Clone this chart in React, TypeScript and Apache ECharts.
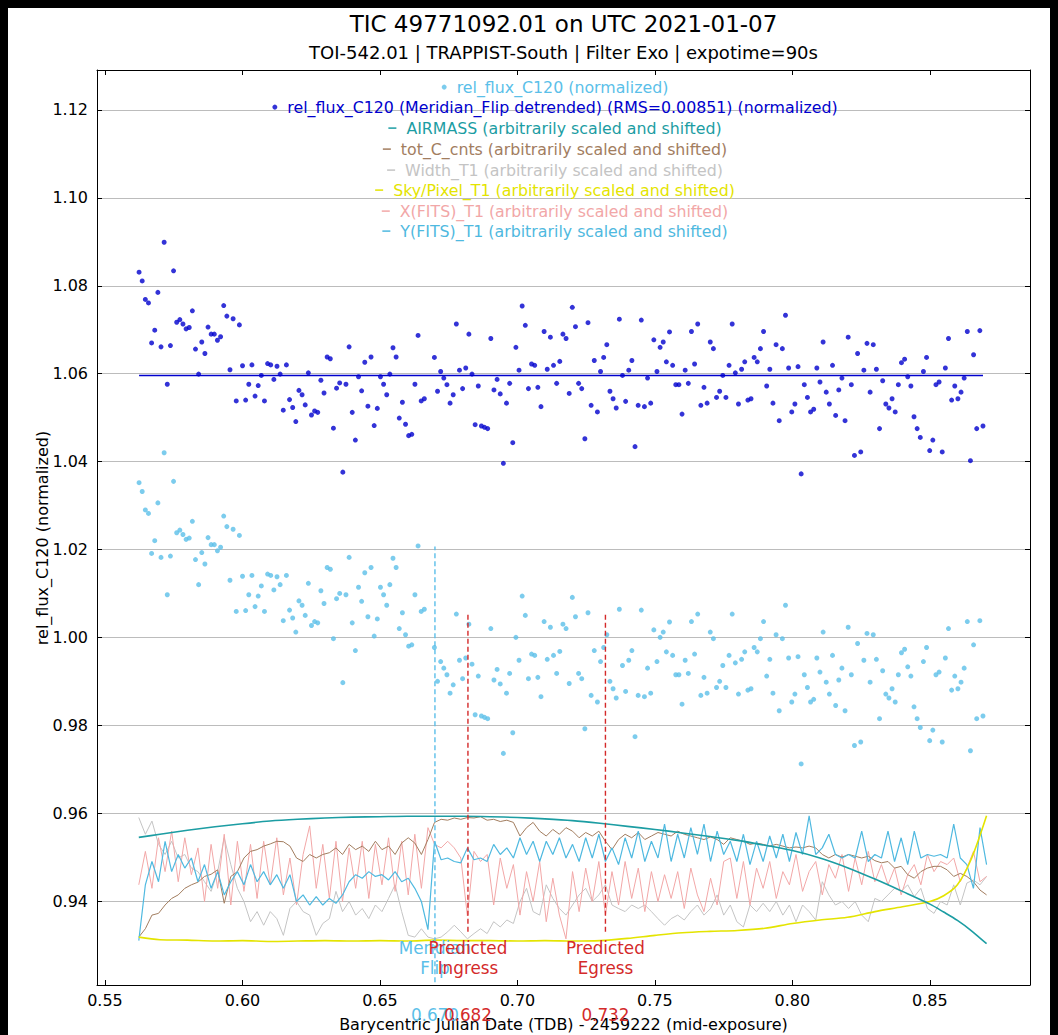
import React, { useEffect, useRef } from "react";
import * as echarts from "echarts";

const FONT = '"DejaVu Sans", "Liberation Sans", sans-serif';

const titleText = "TIC 49771092.01 on UTC 2021-01-07";
const subtitleText = "TOI-542.01 | TRAPPIST-South | Filter Exo | expotime=90s";
const xAxisTitle = "Barycentric Julian Date (TDB) - 2459222 (mid-exposure)";
const yAxisTitle = "rel_flux_C120 (normalized)";

const rawName = "rel_flux_C120 (normalized)";
const detrendedName = "rel_flux_C120 (Meridian_Flip detrended) (RMS=0.00851) (normalized)";
const airmassName = "AIRMASS (arbitrarily scaled and shifted)";
const countsName = "tot_C_cnts (arbitrarily scaled and shifted)";
const widthName = "Width_T1 (arbitrarily scaled and shifted)";
const skyName = "Sky/Pixel_T1 (arbitrarily scaled and shifted)";
const xFitsName = "X(FITS)_T1 (arbitrarily scaled and shifted)";
const yFitsName = "Y(FITS)_T1 (arbitrarily scaled and shifted)";

// Axis extents (BJD_TDB - 2459222, normalized flux)
const xMin = 0.5471;
const xMax = 0.8864;
const yMin = 0.9209;
const yMax = 1.1291;

// Exposure cadence: the meridian flip splits the run into two blocks
const cadence = 0.00114;
const preFlipStart = 0.5624;
const postFlipStart = 0.6698;

const preFlipRaw = [
  1.0352, 1.0332, 1.0290, 1.0282, 1.0191, 1.0220, 1.0306, 1.0182, 1.0420, 1.0097,
  1.0185, 1.0355, 1.0238, 1.0244, 1.0234, 1.0223, 1.0226, 1.0264, 1.0177, 1.0120,
  1.0193, 1.0167, 1.0227, 1.0211, 1.0211, 1.0197, 1.0205, 1.0276, 1.0252, 1.0130,
  1.0246, 1.0059, 1.0232, 1.0139, 1.0061, 1.0097, 1.0141, 1.0070, 1.0094, 1.0117,
  1.0059, 1.0144, 1.0141, 1.0108, 1.0138, 1.0120, 1.0038, 1.0141, 1.0062, 1.0044,
  1.0012, 1.0083, 1.0073, 1.0050, 1.0123, 1.0027, 1.0036, 1.0033, 1.0106, 1.0077,
  1.0159, 1.0155, 0.9997, 1.0088, 1.0100, 0.9897, 1.0097, 1.0182, 1.0033, 0.9970,
  1.0114, 1.0082, 1.0147, 1.0047, 1.0159, 1.0003, 1.0042, 1.0114, 1.0097, 1.0073,
  1.0120, 1.0180, 1.0159, 1.0020, 1.0056, 1.0006, 0.9980, 0.9983, 1.0097, 1.0208,
  1.0059, 1.0064,
];

const postFlipRaw = [
  0.9977, 0.9900, 0.9945, 0.9930, 0.9915, 0.9873, 0.9892, 1.0053, 0.9948, 0.9906,
  0.9953, 1.0030, 0.9939, 0.9824, 0.9912, 0.9821, 0.9818, 0.9815, 1.0020, 0.9903,
  0.9927, 0.9894, 0.9736, 0.9873, 0.9918, 0.9783, 1.0000, 0.9948, 1.0094, 1.0050,
  0.9906, 0.9962, 0.9959, 0.9909, 0.9865, 1.0036, 0.9950, 1.0023, 0.9959, 0.9918,
  0.9968, 1.0030, 1.0020, 0.9895, 1.0091, 1.0047, 0.9918, 0.9906, 0.9792, 1.0056,
  0.9868, 0.9970, 0.9853, 0.9945, 0.9977, 1.0006, 0.9900, 0.9883, 0.9862, 1.0064,
  0.9936, 0.9877, 0.9948, 0.9970, 0.9774, 0.9868, 1.0062, 0.9865, 0.9930, 0.9873,
  1.0017, 0.9945, 1.0000, 1.0012, 0.9967, 1.0035, 0.9959, 0.9915, 0.9915, 0.9848,
  0.9948, 0.9918, 1.0036, 0.9962, 1.0053, 0.9868, 0.9909, 0.9873, 1.0012, 0.9997,
  0.9886, 0.9900, 0.9936, 0.9886, 0.9959, 1.0053, 0.9942, 0.9871, 0.9950, 0.9967,
  0.9880, 0.9883, 0.9977, 0.9967, 0.9997, 1.0036, 0.9912, 0.9950, 0.9873, 1.0006,
  0.9833, 0.9997, 1.0073, 0.9953, 0.9853, 0.9871, 0.9956, 0.9712, 0.9915, 0.9886,
  0.9853, 0.9859, 0.9953, 0.9921, 1.0012, 0.9898, 0.9871, 0.9959, 0.9845, 0.9903,
  0.9930, 0.9833, 1.0023, 0.9915, 0.9754, 0.9986, 0.9762, 0.9948, 1.0009, 0.9898,
  1.0006, 0.9950, 0.9815, 0.9924, 0.9871, 0.9862, 0.9883, 0.9853, 0.9915, 0.9965,
  0.9973, 0.9933, 0.9912, 0.9842, 0.9815, 0.9795, 0.9945, 0.9977, 0.9765, 0.9789,
  0.9915, 0.9921, 0.9762, 0.9953, 1.0020, 0.9880, 0.9912, 0.9883, 0.9898, 0.9930,
  1.0036, 0.9742, 0.9983, 0.9815, 1.0038, 0.9821,
];

const preFlipDetrended = [
  1.0831, 1.0811, 1.0769, 1.0761, 1.0670, 1.0699, 1.0785, 1.0661, 1.0899, 1.0576,
  1.0664, 1.0834, 1.0717, 1.0723, 1.0713, 1.0702, 1.0705, 1.0743, 1.0656, 1.0599,
  1.0672, 1.0646, 1.0706, 1.0690, 1.0690, 1.0676, 1.0684, 1.0755, 1.0731, 1.0609,
  1.0725, 1.0538, 1.0711, 1.0618, 1.0540, 1.0576, 1.0620, 1.0549, 1.0573, 1.0596,
  1.0538, 1.0623, 1.0620, 1.0587, 1.0617, 1.0599, 1.0517, 1.0620, 1.0541, 1.0523,
  1.0491, 1.0562, 1.0552, 1.0529, 1.0602, 1.0506, 1.0515, 1.0512, 1.0585, 1.0556,
  1.0638, 1.0634, 1.0476, 1.0567, 1.0579, 1.0376, 1.0576, 1.0661, 1.0512, 1.0449,
  1.0593, 1.0561, 1.0626, 1.0526, 1.0638, 1.0482, 1.0521, 1.0593, 1.0576, 1.0552,
  1.0599, 1.0659, 1.0638, 1.0499, 1.0535, 1.0485, 1.0459, 1.0462, 1.0576, 1.0687,
  1.0538, 1.0543,
];

const postFlipDetrended = [
  1.0637, 1.0560, 1.0605, 1.0590, 1.0575, 1.0533, 1.0552, 1.0713, 1.0608, 1.0566,
  1.0613, 1.0690, 1.0599, 1.0484, 1.0572, 1.0481, 1.0478, 1.0475, 1.0680, 1.0563,
  1.0587, 1.0554, 1.0396, 1.0533, 1.0578, 1.0443, 1.0660, 1.0608, 1.0754, 1.0710,
  1.0566, 1.0622, 1.0619, 1.0569, 1.0525, 1.0696, 1.0610, 1.0683, 1.0619, 1.0578,
  1.0628, 1.0690, 1.0680, 1.0555, 1.0751, 1.0707, 1.0578, 1.0566, 1.0452, 1.0716,
  1.0528, 1.0630, 1.0513, 1.0605, 1.0637, 1.0666, 1.0560, 1.0543, 1.0522, 1.0724,
  1.0596, 1.0537, 1.0608, 1.0630, 1.0434, 1.0528, 1.0722, 1.0525, 1.0590, 1.0533,
  1.0677, 1.0605, 1.0660, 1.0672, 1.0627, 1.0695, 1.0619, 1.0575, 1.0575, 1.0508,
  1.0608, 1.0578, 1.0696, 1.0622, 1.0713, 1.0528, 1.0569, 1.0533, 1.0672, 1.0657,
  1.0546, 1.0560, 1.0596, 1.0546, 1.0619, 1.0713, 1.0602, 1.0531, 1.0610, 1.0627,
  1.0540, 1.0543, 1.0637, 1.0627, 1.0657, 1.0696, 1.0572, 1.0610, 1.0533, 1.0666,
  1.0493, 1.0657, 1.0733, 1.0613, 1.0513, 1.0531, 1.0616, 1.0372, 1.0575, 1.0546,
  1.0513, 1.0519, 1.0613, 1.0581, 1.0672, 1.0558, 1.0531, 1.0619, 1.0505, 1.0563,
  1.0590, 1.0493, 1.0683, 1.0575, 1.0414, 1.0646, 1.0422, 1.0608, 1.0669, 1.0558,
  1.0666, 1.0610, 1.0475, 1.0584, 1.0531, 1.0522, 1.0543, 1.0513, 1.0575, 1.0625,
  1.0633, 1.0593, 1.0572, 1.0502, 1.0475, 1.0455, 1.0605, 1.0637, 1.0425, 1.0449,
  1.0575, 1.0581, 1.0422, 1.0613, 1.0680, 1.0540, 1.0572, 1.0543, 1.0558, 1.0590,
  1.0696, 1.0402, 1.0643, 1.0475, 1.0698, 1.0481,
];

const detrendedMean = 1.0596;

// Ancillary per-frame quantities, sampled on a common time grid
const auxStart = 0.5623;
const auxStep = 0.00239;

const totCounts = [
  0.9318, 0.9337, 0.9368, 0.9372, 0.9391, 0.9406, 0.9414, 0.9429, 0.9437, 0.9443,
  0.9456, 0.9461, 0.9471, 0.9395, 0.9456, 0.9467, 0.9498, 0.9513, 0.9517, 0.9525,
  0.9530, 0.9536, 0.9535, 0.9525, 0.9498, 0.9490, 0.9506, 0.9498, 0.9506, 0.9510,
  0.9521, 0.9506, 0.9529, 0.9517, 0.9525, 0.9513, 0.9536, 0.9517, 0.9525, 0.9506,
  0.9532, 0.9544, 0.9532, 0.9506, 0.9540, 0.9579, 0.9586, 0.9584, 0.9589, 0.9586,
  0.9590, 0.9589, 0.9592, 0.9584, 0.9586, 0.9581, 0.9584, 0.9579, 0.9548, 0.9567,
  0.9579, 0.9559, 0.9548, 0.9563, 0.9552, 0.9567, 0.9559, 0.9544, 0.9556, 0.9548,
  0.9559, 0.9536, 0.9517, 0.9540, 0.9552, 0.9544, 0.9556, 0.9540, 0.9548, 0.9556,
  0.9552, 0.9548, 0.9559, 0.9552, 0.9548, 0.9544, 0.9540, 0.9546, 0.9540, 0.9529,
  0.9544, 0.9540, 0.9536, 0.9529, 0.9532, 0.9529, 0.9525, 0.9529, 0.9525, 0.9521,
  0.9523, 0.9521, 0.9525, 0.9521, 0.9506, 0.9498, 0.9506, 0.9500, 0.9506, 0.9502,
  0.9498, 0.9502, 0.9492, 0.9487, 0.9490, 0.9475, 0.9479, 0.9460, 0.9452, 0.9467,
  0.9475, 0.9479, 0.9479, 0.9471, 0.9456, 0.9463, 0.9456, 0.9444, 0.9425, 0.9414,
];

const widthT1 = [
  0.9590, 0.9552, 0.9582, 0.9529, 0.9506, 0.9536, 0.9498, 0.9506, 0.9475, 0.9467,
  0.9444, 0.9422, 0.9467, 0.9544, 0.9483, 0.9429, 0.9399, 0.9353, 0.9376, 0.9345,
  0.9376, 0.9360, 0.9322, 0.9383, 0.9399, 0.9376, 0.9368, 0.9322, 0.9349, 0.9360,
  0.9422, 0.9376, 0.9399, 0.9368, 0.9383, 0.9360, 0.9391, 0.9376, 0.9406, 0.9437,
  0.9376, 0.9322, 0.9318, 0.9337, 0.9318, 0.9314, 0.9318, 0.9330, 0.9345, 0.9330,
  0.9314, 0.9326, 0.9337, 0.9326, 0.9353, 0.9341, 0.9357, 0.9349, 0.9399, 0.9429,
  0.9376, 0.9368, 0.9437, 0.9406, 0.9383, 0.9368, 0.9391, 0.9414, 0.9429, 0.9399,
  0.9414, 0.9437, 0.9391, 0.9383, 0.9376, 0.9391, 0.9383, 0.9391, 0.9376, 0.9360,
  0.9345, 0.9360, 0.9368, 0.9357, 0.9376, 0.9391, 0.9368, 0.9383, 0.9414, 0.9368,
  0.9391, 0.9353, 0.9341, 0.9391, 0.9376, 0.9395, 0.9376, 0.9399, 0.9368, 0.9391,
  0.9353, 0.9391, 0.9376, 0.9357, 0.9444, 0.9414, 0.9391, 0.9399, 0.9383, 0.9399,
  0.9368, 0.9353, 0.9406, 0.9399, 0.9414, 0.9429, 0.9422, 0.9437, 0.9410, 0.9429,
  0.9383, 0.9372, 0.9399, 0.9391, 0.9437, 0.9391, 0.9441, 0.9448, 0.9437, 0.9456,
];

const xFits = [
  0.9437, 0.9513, 0.9429, 0.9544, 0.9467, 0.9559, 0.9444, 0.9544, 0.9460, 0.9521,
  0.9399, 0.9529, 0.9429, 0.9552, 0.9391, 0.9536, 0.9422, 0.9529, 0.9406, 0.9536,
  0.9437, 0.9544, 0.9414, 0.9498, 0.9391, 0.9506, 0.9571, 0.9429, 0.9529, 0.9406,
  0.9536, 0.9399, 0.9521, 0.9429, 0.9536, 0.9406, 0.9529, 0.9437, 0.9544, 0.9422,
  0.9536, 0.9414, 0.9552, 0.9429, 0.9567, 0.9529, 0.9521, 0.9536, 0.9521, 0.9498,
  0.9366, 0.9513, 0.9490, 0.9506, 0.9391, 0.9498, 0.9429, 0.9483, 0.9368, 0.9467,
  0.9399, 0.9490, 0.9353, 0.9452, 0.9368, 0.9314, 0.9467, 0.9376, 0.9475, 0.9399,
  0.9490, 0.9368, 0.9467, 0.9391, 0.9490, 0.9406, 0.9475, 0.9376, 0.9467, 0.9399,
  0.9460, 0.9406, 0.9467, 0.9383, 0.9475, 0.9414, 0.9376, 0.9452, 0.9391, 0.9490,
  0.9498, 0.9406, 0.9490, 0.9391, 0.9475, 0.9429, 0.9490, 0.9406, 0.9467, 0.9437,
  0.9506, 0.9422, 0.9467, 0.9490, 0.9414, 0.9483, 0.9452, 0.9506, 0.9422, 0.9498,
  0.9437, 0.9513, 0.9444, 0.9483, 0.9437, 0.9475, 0.9414, 0.9460, 0.9483, 0.9437,
  0.9506, 0.9467, 0.9490, 0.9483, 0.9498, 0.9444, 0.9475, 0.9513, 0.9444, 0.9456,
];

const yFits = [
  0.9310, 0.9437, 0.9490, 0.9444, 0.9536, 0.9467, 0.9506, 0.9475, 0.9498, 0.9444,
  0.9483, 0.9429, 0.9467, 0.9414, 0.9444, 0.9467, 0.9437, 0.9483, 0.9444, 0.9467,
  0.9437, 0.9460, 0.9429, 0.9460, 0.9399, 0.9414, 0.9391, 0.9410, 0.9391, 0.9406,
  0.9395, 0.9414, 0.9444, 0.9460, 0.9452, 0.9467, 0.9456, 0.9460, 0.9448, 0.9467,
  0.9444, 0.9452, 0.9429, 0.9399, 0.9335, 0.9536, 0.9494, 0.9498, 0.9490, 0.9487,
  0.9521, 0.9494, 0.9498, 0.9490, 0.9529, 0.9506, 0.9521, 0.9498, 0.9544, 0.9506,
  0.9536, 0.9490, 0.9536, 0.9506, 0.9544, 0.9498, 0.9529, 0.9490, 0.9544, 0.9498,
  0.9552, 0.9490, 0.9521, 0.9483, 0.9544, 0.9498, 0.9559, 0.9490, 0.9536, 0.9498,
  0.9575, 0.9490, 0.9552, 0.9498, 0.9567, 0.9506, 0.9575, 0.9490, 0.9559, 0.9506,
  0.9536, 0.9490, 0.9552, 0.9483, 0.9536, 0.9490, 0.9548, 0.9498, 0.9552, 0.9490,
  0.9556, 0.9506, 0.9594, 0.9506, 0.9521, 0.9552, 0.9506, 0.9498, 0.9506, 0.9498,
  0.9559, 0.9490, 0.9506, 0.9498, 0.9559, 0.9490, 0.9544, 0.9483, 0.9559, 0.9498,
  0.9506, 0.9502, 0.9506, 0.9498, 0.9575, 0.9498, 0.9483, 0.9429, 0.9567, 0.9483,
];

// Slowly varying quantities on a coarser grid
const smoothTimes = [
  0.5623, 0.57, 0.58, 0.59, 0.60, 0.61, 0.62, 0.63, 0.64, 0.65, 0.66, 0.67,
  0.68, 0.69, 0.70, 0.71, 0.72, 0.73, 0.74, 0.75, 0.76, 0.77, 0.78, 0.79,
  0.80, 0.81, 0.82, 0.83, 0.84, 0.85, 0.855, 0.86, 0.865, 0.8706,
];
const airmass = [
  0.9545, 0.9552, 0.9561, 0.9569, 0.9576, 0.9582, 0.9586, 0.9589, 0.9591, 0.9592, 0.9593, 0.9593,
  0.9593, 0.9592, 0.9590, 0.9587, 0.9583, 0.9577, 0.9570, 0.9563, 0.9555, 0.9547, 0.9538, 0.9527,
  0.9515, 0.9498, 0.9476, 0.9450, 0.9422, 0.9393, 0.9375, 0.9356, 0.9333, 0.9303,
];
const skyPerPixel = [
  0.9318, 0.9312, 0.9311, 0.9309, 0.9310, 0.9308, 0.9309, 0.9310, 0.9309, 0.9310, 0.9309, 0.9311,
  0.9310, 0.9310, 0.9309, 0.9310, 0.9309, 0.9310, 0.9315, 0.9322, 0.9328, 0.9331, 0.9333, 0.9338,
  0.9349, 0.9357, 0.9363, 0.9376, 0.9387, 0.9399, 0.9412, 0.9437, 0.9495, 0.9594,
];

// Event markers
const flipTime = 0.670;
const ingressTime = 0.682;
const egressTime = 0.732;
const flipSpan = [0.9215, 1.0207];
const transitSpan = [0.9330, 1.0052];

const rawColor = "#5bbfe9";
const detrendedColor = "#0000cd";
const airmassColor = "#1c9da3";
const countsColor = "#a27d5f";
const widthColor = "#c4c4c4";
const skyColor = "#e4e400";
const xFitsColor = "#f2a7a7";
const yFitsColor = "#4fb9e0";
const flipColor = "#5bbfe9";
const transitColor = "#d42a2a";

const gridLeft = 89;
const gridTop = 62;
const gridWidth = 933;
const gridHeight = 915;

const onGrid = (start: number, step: number, values: number[]) =>
  values.map((v, i) => [start + i * step, v]);
const paired = (times: number[], values: number[]) => times.map((t, i) => [t, values[i]]);

const isMultiple = (v: number, step: number) => Math.abs(v / step - Math.round(v / step)) < 1e-6;

export default function App() {
  const ref = useRef<HTMLDivElement>(null);

  useEffect(() => {
    document.documentElement.style.background = "#000";
    document.body.style.background = "#000";
    document.body.style.overflow = "hidden";
    const el = ref.current;
    if (!el) return;
    const chart = echarts.init(el, null, { renderer: "svg" });

    const lastPostTime = postFlipStart + (postFlipRaw.length - 1) * cadence;
    const rawData = [...onGrid(preFlipStart, cadence, preFlipRaw), ...onGrid(postFlipStart, cadence, postFlipRaw)];
    const detData = [
      ...onGrid(preFlipStart, cadence, preFlipDetrended),
      ...onGrid(postFlipStart, cadence, postFlipDetrended),
    ];

    const legendSize = 15.8;
    const ctx = document.createElement("canvas").getContext("2d")!;
    ctx.font = `${legendSize}px ${FONT}`;
    const legendCenter = 547;
    const legendRows = [
      { name: rawName, color: rawColor, icon: "circle", w: 5, h: 5 },
      { name: detrendedName, color: detrendedColor, icon: "circle", w: 5, h: 5 },
      { name: airmassName, color: airmassColor, icon: "rect", w: 8, h: 1.5 },
      { name: countsName, color: countsColor, icon: "rect", w: 8, h: 1.5 },
      { name: widthName, color: widthColor, icon: "rect", w: 8, h: 1.5 },
      { name: skyName, color: skyColor, icon: "rect", w: 8, h: 1.5 },
      { name: xFitsName, color: xFitsColor, icon: "rect", w: 8, h: 1.5 },
      { name: yFitsName, color: yFitsColor, icon: "rect", w: 8, h: 1.5 },
    ];
    const legendCenters = [79, 99, 120, 141, 162, 182, 203, 223];
    const legends = legendRows.map((r, k) => {
      const total = r.w + 10 + ctx.measureText(r.name).width;
      return {
        show: true,
        selectedMode: false,
        orient: "horizontal",
        padding: 0,
        left: legendCenter - total / 2,
        top: legendCenters[k] - legendSize / 2,
        itemWidth: r.w,
        itemHeight: r.h,
        textStyle: { fontSize: legendSize, fontFamily: FONT, color: r.color, padding: [0, 0, 0, 5] },
        data: [{ name: r.name, icon: r.icon, itemStyle: { color: r.color }, textStyle: { color: r.color } }],
      };
    });

    const axisLine = { show: true, onZero: false, lineStyle: { color: "#000", width: 1 } };
    const axisTick = { show: true, inside: true, length: 5, lineStyle: { color: "#000", width: 1 } };
    const labelStyle = { color: "#000", fontSize: 16, fontFamily: FONT };

    const line = (name: string, data: number[][], color: string, width: number, smooth: number | boolean = false) => ({
      type: "line",
      name,
      data,
      smooth,
      symbol: "none",
      showSymbol: false,
      silent: true,
      itemStyle: { color },
      lineStyle: { color, width },
    });

    const marker = (name: string, time: number, span: number[], color: string) => ({
      type: "line",
      name,
      data: [
        [time, span[0]],
        [time, span[1]],
      ],
      symbol: "none",
      showSymbol: false,
      silent: true,
      z: 5,
      itemStyle: { color },
      lineStyle: { color, width: 1.4, type: [5, 3] },
    });

    const option: any = {
      animation: false,
      backgroundColor: "#fff",
      legend: legends,
      grid: {
        left: gridLeft,
        top: gridTop,
        width: gridWidth,
        height: gridHeight,
        containLabel: false,
        outerBoundsMode: "none",
      },
      xAxis: [
        {
          type: "value",
          position: "bottom",
          min: xMin,
          max: xMax,
          minInterval: 0.05,
          maxInterval: 0.05,
          axisLine,
          axisTick,
          axisLabel: {
            ...labelStyle,
            margin: 7,
            formatter: (v: number) => (isMultiple(v, 0.05) ? v.toFixed(2) : ""),
          },
          splitLine: { show: false },
          name: xAxisTitle,
          nameLocation: "middle",
          nameGap: 31,
          nameTextStyle: { color: "#000", fontSize: 16, fontFamily: FONT },
        },
        {
          type: "value",
          position: "top",
          min: xMin,
          max: xMax,
          minInterval: 0.05,
          maxInterval: 0.05,
          axisLine,
          axisTick,
          axisLabel: { show: false },
          splitLine: { show: false },
        },
      ],
      yAxis: [
        {
          type: "value",
          position: "left",
          min: yMin,
          max: yMax,
          minInterval: 0.02,
          maxInterval: 0.02,
          axisLine,
          axisTick,
          axisLabel: {
            ...labelStyle,
            margin: 9,
            formatter: (v: number) => (isMultiple(v, 0.02) ? v.toFixed(2) : ""),
          },
          splitLine: {
            show: true,
            showMinLine: false,
            showMaxLine: false,
            lineStyle: { color: "#bcbcbc", width: 1 },
          },
        },
        {
          type: "value",
          position: "right",
          min: yMin,
          max: yMax,
          minInterval: 0.02,
          maxInterval: 0.02,
          axisLine,
          axisTick,
          axisLabel: { show: false },
          splitLine: { show: false },
        },
      ],
      series: [
        line(widthName, onGrid(auxStart, auxStep, widthT1), widthColor, 1),
        line(xFitsName, onGrid(auxStart, auxStep, xFits), xFitsColor, 1),
        line(countsName, onGrid(auxStart, auxStep, totCounts), countsColor, 1),
        line(yFitsName, onGrid(auxStart, auxStep, yFits), yFitsColor, 1.2),
        line(skyName, paired(smoothTimes, skyPerPixel), skyColor, 1.6, 0.3),
        line(airmassName, paired(smoothTimes, airmass), airmassColor, 1.6, 0.3),
        {
          type: "scatter",
          name: rawName,
          data: rawData,
          symbol: "circle",
          symbolSize: 5,
          itemStyle: { color: rawColor },
          silent: true,
        },
        {
          type: "scatter",
          name: detrendedName,
          data: detData,
          symbol: "circle",
          symbolSize: 5,
          itemStyle: { color: detrendedColor },
          silent: true,
        },
        line(
          detrendedName,
          [
            [preFlipStart, detrendedMean],
            [lastPostTime, detrendedMean],
          ],
          detrendedColor,
          1.5
        ),
        marker("Meridian Flip", flipTime, flipSpan, flipColor),
        marker("Predicted Ingress", ingressTime, transitSpan, transitColor),
        marker("Predicted Egress", egressTime, transitSpan, transitColor),
      ],
    };

    chart.setOption(option);

    const plotCenter = gridLeft + gridWidth / 2;
    const plotBottom = gridTop + gridHeight;
    const textEl = (
      text: string,
      x: number,
      y: number,
      size: number,
      fill: string,
      lineHeight?: number,
      rotation = 0
    ) => ({
      type: "text",
      x,
      y,
      rotation,
      silent: true,
      z: 10,
      style: {
        text,
        fill,
        font: `${size}px ${FONT}`,
        fontSize: size,
        fontFamily: FONT,
        align: "center",
        verticalAlign: "middle",
        textAlign: "center",
        textVerticalAlign: "middle",
        lineHeight: lineHeight || size * 1.2,
      },
    });

    const events = [
      { time: flipTime, color: flipColor, label: "Meridian\nFlip" },
      { time: ingressTime, color: transitColor, label: "Predicted\nIngress" },
      { time: egressTime, color: transitColor, label: "Predicted\nEgress" },
    ];
    const eventTexts: any[] = [];
    events.forEach((e) => {
      const x = chart.convertToPixel({ xAxisIndex: 0 }, e.time) as number;
      eventTexts.push(textEl(e.label, x, plotBottom - 27, 16.8, e.color, 20));
      eventTexts.push(textEl(e.time.toFixed(3), x, plotBottom + 30, 16.8, e.color));
    });

    chart.setOption({
      graphic: {
        elements: [
          textEl(titleText, plotCenter, 16, 23, "#000"),
          textEl(subtitleText, plotCenter, 44, 18, "#000"),
          textEl(yAxisTitle, 34, 530, 16, "#000", 18, Math.PI / 2),
          ...eventTexts,
        ],
      },
    });

    return () => {
      chart.dispose();
    };
  }, []);

  return <div ref={ref} style={{ width: 1042, height: 1027, background: "#fff" }} />;
}
